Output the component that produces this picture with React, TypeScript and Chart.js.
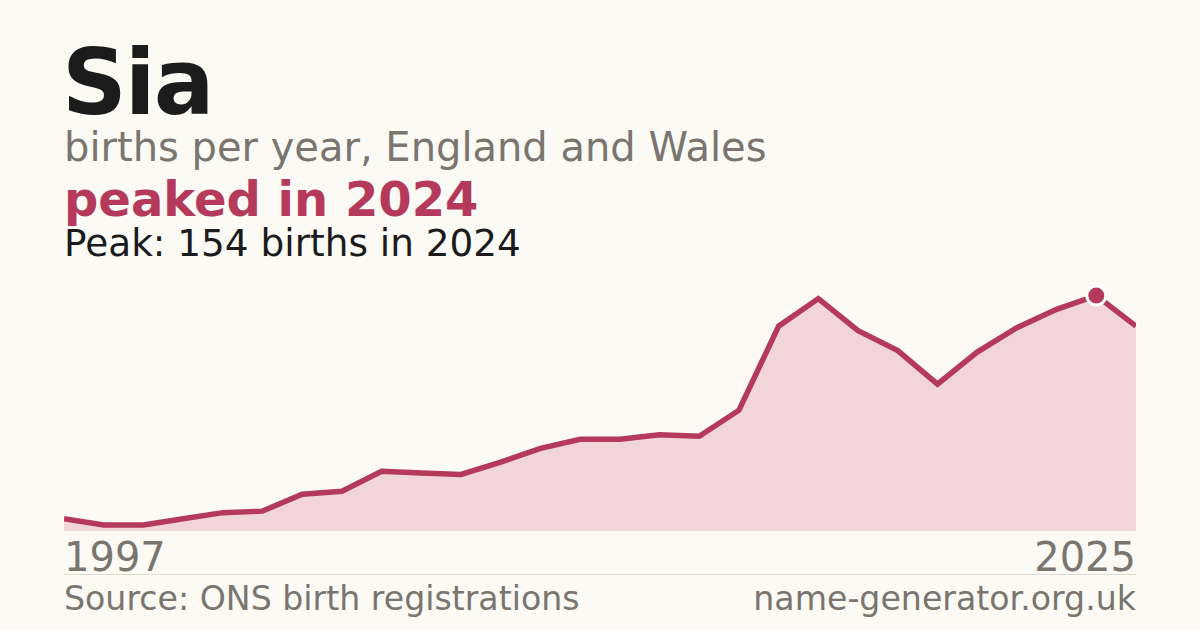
import { useEffect, useRef } from "react"
import { Chart, registerables } from "chart.js"

Chart.register(...registerables)

// One year has no published count, so 28 points span 1997 to 2025
const years = [
  "1997", "1998", "1999", "2000", "2001", "2002", "2003", "2004", "2005", "2006",
  "2007", "2008", "2009", "2010", "2011", "2012", "2013", "2014", "2015", "2016",
  "2017", "2018", "2019", "2021", "2022", "2023", "2024", "2025",
]
const births = [
  8, 4, 4, 8, 12, 13, 24, 26, 39, 38,
  37, 45, 54, 60, 60, 63, 62, 79, 134, 152,
  131, 118, 96, 117, 133, 145, 154, 134,
]

const BG = "#fbfaf5"
const ACCENT = "#b5395a"
const FILL = "#f2d5db"
const GREY = "#7a756e"
const INK = "#1b1b1b"
const FONT = '"DejaVu Sans", Verdana, sans-serif'

export default function App() {
  const chartRef = useRef<HTMLCanvasElement>(null)
  const chartInstance = useRef<Chart | null>(null)

  const peak = Math.max(...births)
  const peakIdx = births.indexOf(peak)

  useEffect(() => {
    document.body.style.margin = "0"
    if (!chartRef.current) return
    if (chartInstance.current) chartInstance.current.destroy()

    const ctx = chartRef.current.getContext("2d")
    if (!ctx) return

    chartInstance.current = new Chart(ctx, {
      type: "line",
      data: {
        labels: years,
        datasets: [
          {
            data: births,
            borderColor: ACCENT,
            backgroundColor: FILL,
            fill: "origin",
            tension: 0,
            borderWidth: 5.5,
            borderJoinStyle: "miter",
            pointRadius: births.map((_, i) => (i === peakIdx ? 9.5 : 0)),
            pointHoverRadius: 0,
            pointBackgroundColor: ACCENT,
            pointBorderColor: "#ffffff",
            pointBorderWidth: 3,
          },
        ],
      },
      options: {
        responsive: true,
        maintainAspectRatio: false,
        animation: false,
        events: [],
        layout: { padding: 0 },
        plugins: {
          legend: { display: false },
          tooltip: { enabled: false },
          title: { display: false },
        },
        scales: {
          x: { display: false, offset: false },
          y: { display: false, min: 0, max: peak * 1.1 },
        },
      },
    })

    return () => {
      if (chartInstance.current) {
        chartInstance.current.destroy()
        chartInstance.current = null
      }
    }
  }, [])

  return (
    <div
      style={{
        position: "fixed",
        left: 0,
        top: 0,
        width: 1200,
        height: 630,
        background: BG,
        fontFamily: FONT,
        overflow: "hidden",
      }}
    >
      <div style={{ position: "absolute", left: 62, top: 33, fontSize: 90, fontWeight: 700, color: INK, lineHeight: "100px", letterSpacing: "-2px" }}>
        Sia
      </div>
      <div style={{ position: "absolute", left: 64, top: 123, fontSize: 40, color: GREY, lineHeight: "48px" }}>
        births per year, England and Wales
      </div>
      <div style={{ position: "absolute", left: 64, top: 171, fontSize: 48, fontWeight: 700, color: ACCENT, lineHeight: "56px" }}>
        peaked in {years[peakIdx]}
      </div>
      <div style={{ position: "absolute", left: 64, top: 221, fontSize: 37.4, color: INK, lineHeight: "44px" }}>
        Peak: {peak} births in {years[peakIdx]}
      </div>

      <div style={{ position: "absolute", left: 64, top: 272, width: 1072, height: 259 }}>
        <canvas ref={chartRef}></canvas>
      </div>

      <div style={{ position: "absolute", left: 64, top: 533, fontSize: 40, color: GREY, lineHeight: "48px" }}>
        {years[0]}
      </div>
      <div style={{ position: "absolute", right: 64, top: 533, fontSize: 40, color: GREY, lineHeight: "48px" }}>
        {years[years.length - 1]}
      </div>
      <div style={{ position: "absolute", left: 64, top: 574, width: 1072, height: 1, background: "#dedad2" }}></div>
      <div style={{ position: "absolute", left: 64, top: 580, fontSize: 33.2, color: GREY, lineHeight: "38px" }}>
        Source: ONS birth registrations
      </div>
      <div style={{ position: "absolute", right: 64, top: 580, fontSize: 33.2, color: GREY, lineHeight: "38px" }}>
        name-generator.org.uk
      </div>
    </div>
  )
}
